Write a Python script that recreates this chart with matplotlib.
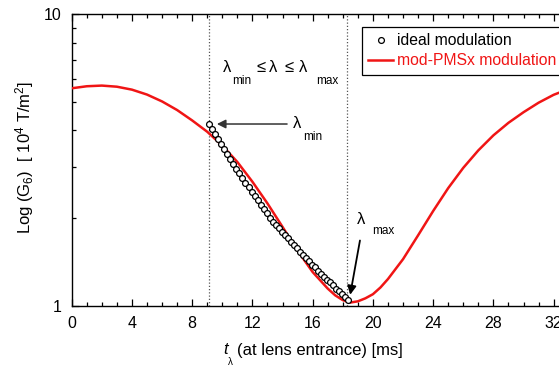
import numpy as np
import matplotlib
matplotlib.use("Agg")
import matplotlib.pyplot as plt
from matplotlib.ticker import FixedLocator, NullFormatter, MultipleLocator

plt.rcParams['font.family'] = ['Liberation Sans', 'DejaVu Sans']
plt.rcParams['mathtext.fontset'] = 'custom'
plt.rcParams['mathtext.rm'] = 'Liberation Sans'
plt.rcParams['mathtext.it'] = 'Liberation Sans:italic'

# mod-PMSx modulation (red curve)
pms_t = [0, 1, 2, 3, 4, 5, 6, 7, 8, 9, 10, 11, 12, 13, 14, 15, 16, 17, 17.5,
         18, 18.5, 19, 19.5, 20, 20.5, 21, 22, 23, 24, 25, 26, 27, 28, 29,
         30, 31, 32, 33, 34]
pms_g = [5.58, 5.67, 5.70, 5.65, 5.52, 5.31, 5.03, 4.70, 4.33, 3.96, 3.55,
         3.12, 2.67, 2.25, 1.87, 1.55, 1.31, 1.15, 1.09,
         1.05, 1.03, 1.04, 1.065, 1.10, 1.16, 1.24, 1.45, 1.75, 2.12, 2.54,
         2.98, 3.42, 3.85, 4.25, 4.62, 4.98, 5.30, 5.55, 5.72]

# ideal modulation (open circles)
ideal_t = [9.14, 9.34, 9.54, 9.74, 9.94, 10.14, 10.34, 10.54, 10.74, 10.94,
           11.14, 11.34, 11.54, 11.74, 11.94, 12.14, 12.34, 12.54, 12.74,
           12.94, 13.14, 13.34, 13.54, 13.74, 13.94, 14.14, 14.34, 14.54,
           14.74, 14.94, 15.14, 15.34, 15.54, 15.74, 15.94, 16.14, 16.34,
           16.54, 16.74, 16.94, 17.14, 17.34, 17.54, 17.74, 17.94, 18.14, 18.34]
ideal_g = [4.21, 4.05, 3.89, 3.73, 3.59, 3.45, 3.32, 3.20, 3.08, 2.96,
           2.85, 2.74, 2.65, 2.56, 2.47, 2.39, 2.31, 2.23, 2.16,
           2.08, 2.01, 1.95, 1.90, 1.85, 1.80, 1.75, 1.71, 1.66,
           1.62, 1.58, 1.54, 1.50, 1.46, 1.43, 1.39, 1.36, 1.32,
           1.29, 1.26, 1.23, 1.21, 1.18, 1.15, 1.13, 1.10, 1.08, 1.05]

lam_min = 9.14
lam_max = 18.3

RED = '#f01515'
W, H = 559, 368
fig = plt.figure(figsize=(W / 100, H / 100), dpi=100)
ax = fig.add_axes([71.7 / W, 1 - 306.3 / H, 497.0 / W, 292.0 / H])


def px(x, y):
    return x / W, 1 - y / H


red_line, = ax.plot(pms_t, pms_g, color=RED, lw=1.8, label='mod-PMSx modulation', zorder=3)
circles, = ax.plot(ideal_t, ideal_g, 'o', ms=4.2, mfc='white', mec='black', mew=0.9,
                   label='ideal modulation', zorder=4)

for xv in (lam_min, lam_max):
    ax.axvline(xv, color='#555555', lw=0.9, ls=(0, (1, 1.6)), zorder=1)

ax.set_yscale('log')
ax.set_xlim(0, 33)
ax.set_ylim(1, 10)
ax.xaxis.set_major_locator(MultipleLocator(4))
ax.xaxis.set_minor_locator(MultipleLocator(1))
ax.yaxis.set_major_locator(FixedLocator([1, 10]))
ax.yaxis.set_minor_locator(FixedLocator([2, 3, 4, 5, 6, 7, 8, 9]))
ax.yaxis.set_minor_formatter(NullFormatter())
ax.set_yticklabels(['1', '10'])
ax.tick_params(which='both', direction='in', top=True, right=True,
               labelsize=11.5, width=0.9)
ax.tick_params(axis='x', which='both', pad=7)
ax.tick_params(axis='y', which='both', pad=7)
ax.tick_params(which='major', length=5)
ax.tick_params(which='minor', length=3)
for s in ax.spines.values():
    s.set_linewidth(1.0)

leg = ax.legend(handles=[circles, red_line], loc='upper left',
                bbox_to_anchor=px(361.7, 26.7), bbox_transform=fig.transFigure,
                fontsize=11.3, numpoints=1, handlelength=1.6, handletextpad=0.25,
                labelspacing=0.3, borderpad=0.42, borderaxespad=0,
                fancybox=False, edgecolor='black', framealpha=1)
leg.get_frame().set_linewidth(0.9)
leg.get_texts()[1].set_color(RED)

big = 12
small = 8.5
# lambda_min <= lambda <= lambda_max
fig.text(*px(223, 67), 'λ', fontsize=big, va='center')
fig.text(*px(232, 81), 'min', fontsize=small, va='center')
fig.text(*px(256, 67), '≤', fontsize=big, va='center')
fig.text(*px(269, 67), 'λ', fontsize=big, va='center')
fig.text(*px(284, 67), '≤', fontsize=big, va='center')
fig.text(*px(299, 67), 'λ', fontsize=big, va='center')
fig.text(*px(316, 81), 'max', fontsize=small, va='center')

# arrows to the ends of the ideal curve
ax.annotate('', xy=(ideal_t[0] + 0.5, ideal_g[0]), xytext=(14.3, ideal_g[0]),
            arrowprops=dict(arrowstyle='-|>', color='#333333', lw=1.1,
                            mutation_scale=13, shrinkA=0, shrinkB=0))
fig.text(*px(293, 123), 'λ', fontsize=big, va='center')
fig.text(*px(303, 137), 'min', fontsize=small, va='center')

ax.annotate('', xy=(ideal_t[-1] + 0.15, ideal_g[-1] + 0.045), xytext=(19.14, 1.68),
            arrowprops=dict(arrowstyle='-|>', color='black', lw=1.3,
                            mutation_scale=13, shrinkA=0, shrinkB=0))
fig.text(*px(357, 219), 'λ', fontsize=big, va='center')
fig.text(*px(372, 231), 'max', fontsize=small, va='center')

# axis labels
fig.text(*px(223, 350), 't', fontsize=big, style='italic', va='center')
fig.text(*px(228, 362), 'λ', fontsize=7, va='center')
fig.text(*px(237, 350), '(at lens entrance) [ms]', fontsize=big, va='center')

fig.text(*px(25, 157), r'Log ($\mathregular{G_6}$)  [ 10$^{4}$ T/m$^{2}$]',
         fontsize=big, rotation=90, ha='center', va='center')

fig.savefig('out.png', dpi=100)
